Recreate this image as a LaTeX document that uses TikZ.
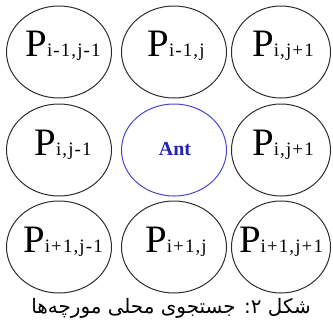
\documentclass[tikz,border=0pt]{standalone}
\usepackage{fontspec}
\setmainfont{Liberation Serif}
\newfontfamily\arabicfont[Script=Arabic]{DejaVu Sans}
\newfontfamily\subfont[LetterSpace=6]{Liberation Serif}
\TeXXeTstate=1
\usetikzlibrary{shapes.geometric}
\definecolor{antblue}{RGB}{35,35,185}
\definecolor{ringblue}{RGB}{70,70,205}
\definecolor{ringgray}{RGB}{45,45,45}
\newcommand\Plab[1]{{\fontsize{39}{39}\selectfont P}{\subfont\fontsize{19}{19}\selectfont #1}}
\begin{document}
\begin{tikzpicture}[x=1bp,y=-1bp,
  cell/.style={ellipse, draw=ringgray, line width=1bp, minimum height=92bp, inner sep=0pt},
  antcell/.style={cell, draw=ringblue},
  lab/.style={anchor=base, inner sep=0pt},
]
\useasboundingbox (0,0) rectangle (333,322);
% row 1
\node[cell, minimum width=105bp] (c11) at (59,52) {};
\node[cell, minimum width=105bp] (c12) at (174,52) {};
\node[cell, minimum width=99bp] (c13) at (281,52) {};
% row 2
\node[cell, minimum width=105bp] (c21) at (59,150) {};
\node[antcell, minimum width=105bp] (c22) at (174,150) {};
\node[cell, minimum width=99bp] (c23) at (281,150) {};
% row 3
\node[cell, minimum width=105bp] (c31) at (59,247) {};
\node[cell, minimum width=105bp] (c32) at (174,247) {};
\node[cell, minimum width=99bp] (c33) at (281,247) {};
% labels
\node[lab] (t11) at (63,56) {\Plab{i-1,j-1}};
\node[lab] (t12) at (176,56) {\Plab{i-1,j}};
\node[lab] (t13) at (283,56) {\Plab{i,j+1}};
\node[lab] (t21) at (63,155) {\Plab{i,j-1}};
\node[lab, text=antblue] (t22) at (175,155) {\fontsize{20}{20}\selectfont\bfseries Ant};
\node[lab] (t23) at (283,155) {\Plab{i,j+1}};
\node[lab] (t31) at (63,252) {\Plab{i+1,j-1}};
\node[lab] (t32) at (176,252) {\Plab{i+1,j}};
\node[lab] (t33) at (281,252) {\Plab{i+1,j+1}};
% caption
\node[lab] (cap) at (171,313) {\arabicfont\fontsize{20}{20}\selectfont\beginR شکل ۲: جستجوی محلی مورچه‌ها\endR};
\end{tikzpicture}
\end{document}
